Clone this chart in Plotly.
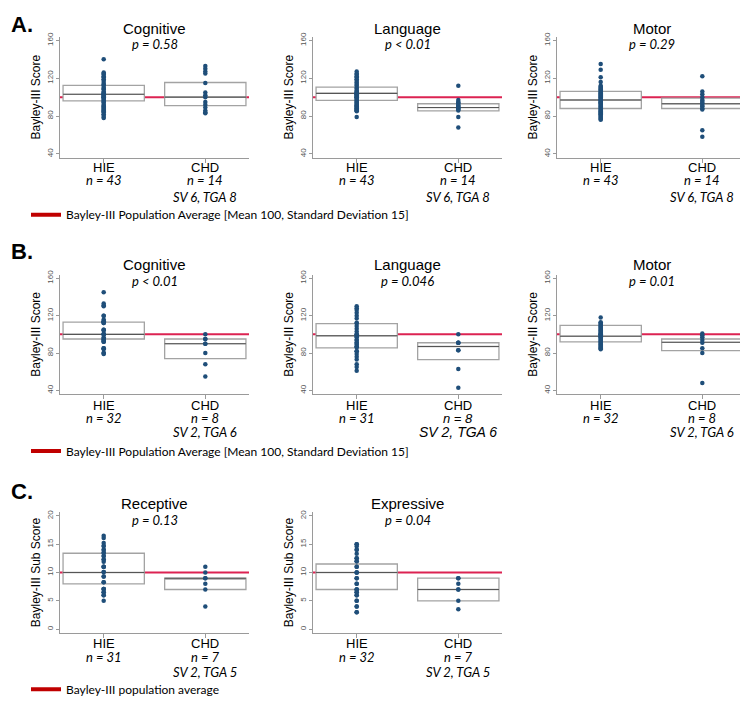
import plotly.graph_objects as go

# the page body adds an 8px margin, so the figure is drawn 8px smaller
PAGE_W, PAGE_H, PAD = 748, 704, 8
W, H = PAGE_W - PAD, PAGE_H - PAD

GROUPS = ["HIE", "CHD"]
POP_MEAN = 100      # Bayley-III composite population mean
SUB_MEAN = 10       # Bayley-III subscale population mean
COMP_TICKS = [40, 80, 120, 160]
SUB_TICKS = [0, 5, 10, 15, 20]

# ---- A. composite scores, all infants ----
A_COG_HIE = [140, 126, 125, 124, 122, 121, 119, 118, 116, 114, 113, 112, 110, 109, 108,
             106, 105, 104, 103, 103, 102, 101, 100, 100, 99, 98, 97, 96, 95, 94,
             92, 91, 90, 89, 88, 87, 86, 85, 84, 82, 81, 79, 78]
A_COG_CHD = [133, 130, 127, 125, 115, 105, 102, 100, 95, 92, 89, 86, 84, 83]
A_LANG_HIE = [127, 125, 124, 122, 121, 119, 118, 116, 115, 113, 112, 110, 109, 107, 106,
              105, 104, 103, 103, 102, 101, 100, 100, 99, 98, 97, 96, 95, 94, 93,
              92, 91, 91, 90, 89, 88, 88, 87, 86, 86, 85, 79, 104]
A_LANG_CHD = [112, 97, 95, 94, 93, 91, 91, 89, 89, 88, 87, 86, 79, 68]
A_MOT_HIE = [135, 129, 121, 116, 112, 111, 110, 109, 108, 107, 106, 105, 104, 103, 102,
             101, 100, 99, 98, 97, 97, 96, 95, 94, 93, 92, 91, 90, 89, 88,
             87, 86, 85, 84, 83, 82, 81, 80, 79, 78, 77, 76, 94]
A_MOT_CHD = [122, 106, 103, 100, 97, 96, 94, 93, 91, 90, 88, 87, 65, 58]

# ---- B. composite scores, subset ----
B_COG_HIE = [145, 133, 131, 130, 120, 120, 116, 114, 114, 113, 112, 112, 105, 105, 104,
             100, 100, 100, 100, 97, 95, 95, 94, 93, 92, 92, 85, 85, 84, 80, 80, 79]
B_COG_CHD = [100, 95, 95, 90, 90, 80, 68, 55]
B_LANG_HIE = [130, 128, 126, 123, 120, 117, 112, 112, 109, 106, 103, 100, 100, 98, 97,
              94, 94, 91, 91, 89, 87, 87, 86, 82, 82, 79, 76, 73, 68, 65, 61]
B_LANG_CHD = [100, 91, 91, 91, 83, 83, 63, 43]
B_MOT_HIE = [118, 113, 112, 111, 110, 109, 108, 107, 106, 105, 104, 103, 102, 101, 100,
             100, 99, 98, 97, 96, 95, 94, 93, 92, 91, 90, 89, 88, 87, 86, 85, 84]
B_MOT_CHD = [101, 99, 97, 94, 91, 85, 80, 48]

# ---- C. language sub scores ----
C_REC_HIE = [16.5, 16.1, 15.2, 14.7, 14, 13.5, 12.9, 12.3, 11.9, 11, 10.1, 9.3, 8.3, 7.1,
             6.5, 6, 5, 14, 13.5, 12.3, 11, 11, 10.1, 9.3, 8.3, 7.1, 7.1, 6.5, 6, 14.7, 12.9]
C_REC_CHD = [11, 10, 9, 9, 8, 7, 4]
C_EXP_HIE = [15, 14.6, 14, 13.3, 12.5, 12, 11, 10, 9, 8, 7, 6.5, 6, 5, 4, 3,
             15, 14, 12.5, 12, 11, 10, 10, 9, 8, 7, 7, 6.5, 6, 5, 4, 3]
C_EXP_CHD = [9, 9, 8, 7, 7, 5, 3.5]

# box summaries: [q1, median, q3] for HIE, CHD
BOX_A_COG = [[96, 103, 112.5], [91, 100, 115.5]]
BOX_A_LANG = [[96.5, 104, 110.5], [85.5, 89, 93]]
BOX_A_MOT = [[88, 97, 106], [88, 93, 99]]
BOX_B_COG = [[95, 100, 113], [74, 90, 95]]
BOX_B_LANG = [[85.5, 98.5, 111.5], [73, 87, 91]]
BOX_B_MOT = [[92, 98, 109.5], [82.5, 91.5, 95]]
BOX_C_REC = [[8, 10, 13.4], [7, 9, 9]]
BOX_C_EXP = [[7, 10, 11.5], [5, 7, 9]]

P_VALUES = ["p = 0.58", "p < 0.01", "p = 0.29",
            "p < 0.01", "p = 0.046", "p = 0.01",
            "p = 0.13", "p = 0.04"]
TITLES = ["Cognitive", "Language", "Motor",
          "Cognitive", "Language", "Motor",
          "Receptive", "Expressive"]
N_LABELS = [(43, 14), (43, 14), (43, 14),
            (32, 8), (31, 8), (32, 8),
            (31, 7), (32, 7)]
CHD_SUB = {"A": "SV 6, TGA 8", "B": "SV 2, TGA 6", "C": "SV 2, TGA 5"}
LEGEND_TEXT = {"A": "Bayley-III Population Average [Mean 100, Standard Deviation 15]",
               "B": "Bayley-III Population Average [Mean 100, Standard Deviation 15]",
               "C": "Bayley-III population average"}

# colours / fonts
RED = "#dc2352"
LEGEND_RED = "#c00000"
BOX_COL = "#a3a3a3"
MED_COL = "#555555"
DOT = "#1f4e79"
AX_COL = "#9a9a9a"
ARIAL = "Liberation Sans, Arial, sans-serif"
CALI = "Lato, sans-serif"

# layout geometry (page pixels)
COL_X = [(60, 249), (313, 502), (557, 746)]
ROW_Y = {"A": (32, 155), "B": (273.7, 395.3), "C": (515.5, 637.5)}
TITLE_Y = {"A": (23.5, 40), "B": (263.5, 280), "C": (506.5, 523)}
LABEL_Y = {"A": (165, 178, 195), "B": (406.5, 420, 434), "C": (648.5, 662, 678)}
LEGEND_Y = {"A": 213, "B": 453, "C": 695}
LETTER_Y = {"A": 20, "B": 250, "C": 494}
X_RANGE = [-0.43, 1.43]

panels = [
    ("A", 0, A_COG_HIE, A_COG_CHD, BOX_A_COG),
    ("A", 1, A_LANG_HIE, A_LANG_CHD, BOX_A_LANG),
    ("A", 2, A_MOT_HIE, A_MOT_CHD, BOX_A_MOT),
    ("B", 0, B_COG_HIE, B_COG_CHD, BOX_B_COG),
    ("B", 1, B_LANG_HIE, B_LANG_CHD, BOX_B_LANG),
    ("B", 2, B_MOT_HIE, B_MOT_CHD, BOX_B_MOT),
    ("C", 0, C_REC_HIE, C_REC_CHD, BOX_C_REC),
    ("C", 1, C_EXP_HIE, C_EXP_CHD, BOX_C_EXP),
]


def fx(px):
    return (px - PAD) / W


def fy(px):
    return 1 - (px - PAD) / H


def sfx(k):
    return "" if k == 1 else str(k)


fig = go.Figure()
shapes, annotations = [], []
legend_names = {"A": "legend", "B": "legend2", "C": "legend3"}

for i, (row, col, hie, chd, box) in enumerate(panels):
    k = i + 1
    xa, ya = f"x{sfx(k)}", f"y{sfx(k)}"
    sub = row == "C"
    mean = SUB_MEAN if sub else POP_MEAN
    q1 = [b[0] for b in box]
    med = [b[1] for b in box]
    q3 = [b[2] for b in box]

    # population average line (behind the white boxes)
    shapes.append(dict(type="line", xref=f"{xa} domain", yref=ya, x0=0, x1=1,
                       y0=mean, y1=mean, line=dict(color=RED, width=2), layer="below"))

    fig.add_trace(go.Box(x=[0, 1], q1=q1, median=med, q3=q3, lowerfence=q1, upperfence=q3,
                         width=0.8, whiskerwidth=0, fillcolor="white",
                         line=dict(color=BOX_COL, width=1.3), showlegend=False,
                         hoverinfo="skip", xaxis=xa, yaxis=ya))
    fig.add_trace(go.Box(x=[0, 1], q1=med, median=med, q3=med, lowerfence=med, upperfence=med,
                         width=0.8, whiskerwidth=0, fillcolor="rgba(0,0,0,0)",
                         line=dict(color=MED_COL, width=1.1), showlegend=False,
                         hoverinfo="skip", xaxis=xa, yaxis=ya))
    fig.add_trace(go.Scatter(x=[0] * len(hie) + [1] * len(chd), y=hie + chd, mode="markers",
                             marker=dict(color=DOT, size=4.5), showlegend=False,
                             xaxis=xa, yaxis=ya))

    x0, x1 = COL_X[col]
    top, bot = ROW_Y[row]
    fig.layout[f"xaxis{sfx(k)}"] = dict(
        domain=[fx(x0), fx(x1)], range=X_RANGE, anchor=ya, showline=True, linecolor=AX_COL,
        linewidth=1, ticks="outside", ticklen=4, tickcolor=AX_COL, tickvals=[0, 1],
        showticklabels=False, showgrid=False, zeroline=False)
    fig.layout[f"yaxis{sfx(k)}"] = dict(
        domain=[fy(bot), fy(top)], range=[-0.6, 20.6] if sub else [36, 164], anchor=xa,
        showline=True, linecolor=AX_COL, linewidth=1, ticks="outside", ticklen=3,
        tickcolor=AX_COL, tickvals=SUB_TICKS if sub else COMP_TICKS, tickangle=-90,
        tickfont=dict(family=ARIAL, size=8, color="#555555"), showgrid=False, zeroline=False,
        title=dict(text="Bayley-III Sub Score" if sub else "Bayley-III Score",
                   font=dict(family=ARIAL, size=12, color="black"), standoff=2))

    # panel title and p-value
    ty, py_ = TITLE_Y[row]
    annotations.append(dict(text=TITLES[i], xref=f"{xa} domain", x=0.5, yref="paper", y=fy(ty),
                            showarrow=False, yanchor="middle",
                            font=dict(family=ARIAL, size=15, color="black")))
    annotations.append(dict(text=f"<i>{P_VALUES[i]}</i>", xref=f"{xa} domain", x=0.5,
                            yref="paper", y=fy(py_), showarrow=False, yanchor="middle",
                            font=dict(family=CALI, size=13, color="black")))

    # group names, n counts and CHD subtypes under the categories
    gy, ny, sy = LABEL_Y[row]
    big = (row == "B" and col == 1)
    for g, n in enumerate(N_LABELS[i]):
        annotations.append(dict(text=GROUPS[g], xref=xa, x=g, yref="paper", y=fy(gy),
                                showarrow=False, yanchor="middle",
                                font=dict(family=ARIAL, size=13, color="black")))
        annotations.append(dict(text=f"<i>n = {n}</i>", xref=xa, x=g, yref="paper", y=fy(ny),
                                showarrow=False, yanchor="middle",
                                font=dict(family=ARIAL if (big and g == 1) else CALI,
                                          size=13, color="black")))
    annotations.append(dict(text=f"<i>{CHD_SUB[row]}</i>", xref=xa, x=1, yref="paper",
                            y=fy(sy), showarrow=False, yanchor="middle",
                            font=dict(family=ARIAL if big else CALI, size=14 if big else 13,
                                      color="black")))

# row legends (one per panel group)
first_axis = {"A": 1, "B": 4, "C": 7}
for row, name in legend_names.items():
    k = first_axis[row]
    fig.add_trace(go.Scatter(x=[None], y=[None], mode="lines", name=LEGEND_TEXT[row],
                             line=dict(color=LEGEND_RED, width=4), legend=name,
                             xaxis=f"x{sfx(k)}", yaxis=f"y{sfx(k)}"))
    fig.layout[name] = dict(x=fx(26), y=fy(LEGEND_Y[row]), xanchor="left", yanchor="middle",
                            orientation="h", bgcolor="rgba(0,0,0,0)", itemwidth=30,
                            font=dict(family=CALI, size=12, color="black"))
    annotations.append(dict(text=f"<b>{row}.</b>", xref="paper", x=fx(9), xanchor="left",
                            yref="paper", y=fy(LETTER_Y[row]), yanchor="middle",
                            showarrow=False, font=dict(family=ARIAL, size=22, color="black")))

fig.update_layout(width=W, height=H, margin=dict(l=0, r=0, t=0, b=0),
                  paper_bgcolor="white", plot_bgcolor="rgba(0,0,0,0)",
                  shapes=shapes, annotations=annotations, boxmode="overlay")

fig.write_html("out.html")
